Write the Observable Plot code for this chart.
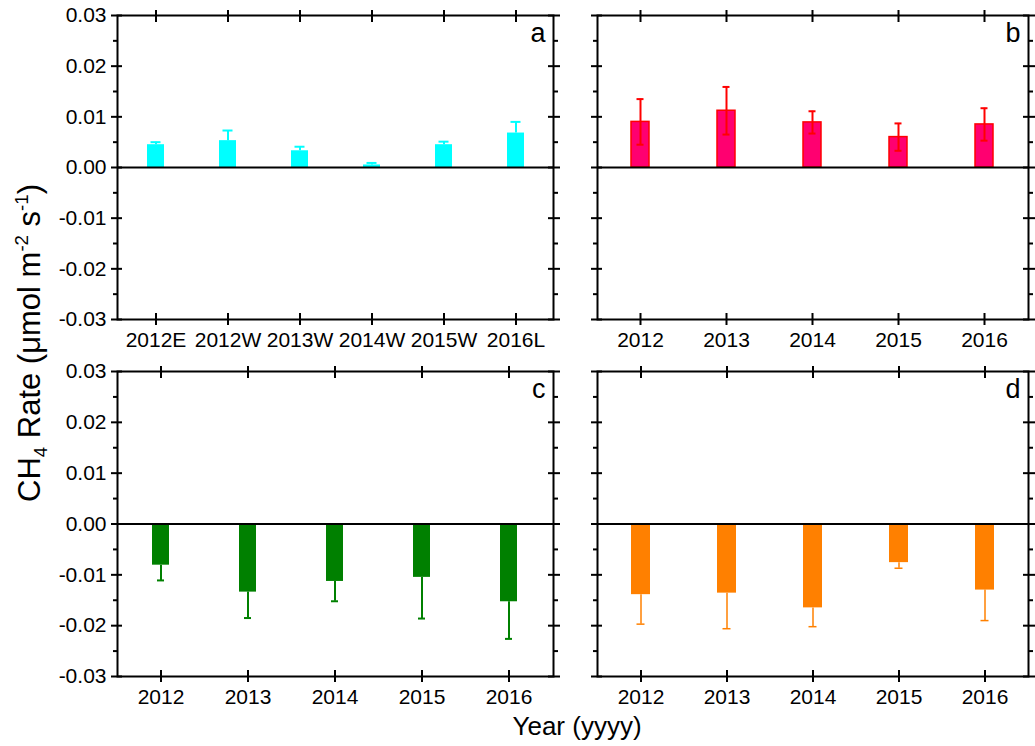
<!DOCTYPE html>
<html><head><meta charset="utf-8">
<script src="https://cdn.jsdelivr.net/npm/d3@7"></script>
<script src="https://cdn.jsdelivr.net/npm/@observablehq/plot@0.6"></script>
<style>
body{margin:0;background:#fff;}
#chart{position:relative;width:1035px;height:746px;font-family:"Liberation Sans",Arial,sans-serif;color:#000;overflow:hidden;}
#chart svg{position:absolute;}
.ytitle{position:absolute;left:29px;top:343px;transform:translate(-50%,-50%) rotate(-90deg);white-space:nowrap;font-size:31px;line-height:1;}
.ytitle sub,.ytitle sup{font-size:60%;line-height:0;}
.xtitle{position:absolute;left:577px;top:713px;transform:translateX(-50%);white-space:nowrap;font-size:26px;line-height:1;}
</style></head><body>
<div id="chart">
  <div class="ytitle">CH<sub>4</sub> Rate (μmol m<sup>-2</sup> s<sup>-1</sup>)</div>
  <div class="xtitle">Year (yyyy)</div>
</div>
<script>
// ---- data ----
const catsA = ["2012E","2012W","2013W","2014W","2015W","2016L"];
const valsA = [0.0045, 0.0053, 0.0033, 0.0005, 0.0045, 0.0068];
const errA  = [0.0005, 0.0020, 0.0008, 0.0004, 0.0006, 0.0022];

const years = ["2012","2013","2014","2015","2016"];
const valsB = [0.0090, 0.0112, 0.0089, 0.0060, 0.0085];
const errB  = [0.0045, 0.0047, 0.0022, 0.0027, 0.0032];

const valsC = [-0.0081, -0.0134, -0.0113, -0.0105, -0.0153];
const errC  = [0.0030, 0.0051, 0.0039, 0.0081, 0.0073];

const valsD = [-0.0139, -0.0136, -0.0165, -0.0076, -0.0130];
const errD  = [0.0058, 0.0070, 0.0037, 0.0011, 0.0060];

const yMajor = [-0.03, -0.02, -0.01, 0, 0.01, 0.02, 0.03];
const yMinor = [-0.025, -0.015, -0.005, 0.005, 0.015, 0.025];
const letters = ["a","b","c","d"];

const fmt = d => (Math.abs(d) < 1e-9 ? 0 : d).toFixed(2);
const FS = 21;

function panel(o) {
  const data = o.cats.map((c, i) => ({cat: c, v: o.vals[i], e: o.errs[i]}));
  const lo = d => o.dir === "up" ? d.v : d.v - d.e;
  const hi = d => o.dir === "down" ? d.v : d.v + d.e;
  const caps = [];
  if (o.dir !== "down") caps.push(Plot.tickY(data, {x: "cat", y: hi, stroke: o.errColor, strokeWidth: o.errWidth, insetLeft: o.capInset, insetRight: o.capInset}));
  if (o.dir !== "up") caps.push(Plot.tickY(data, {x: "cat", y: lo, stroke: o.errColor, strokeWidth: o.errWidth, insetLeft: o.capInset, insetRight: o.capInset}));
  const svg = Plot.plot({
    width: o.width, height: o.height,
    marginLeft: o.ml, marginRight: o.mr, marginTop: o.mt, marginBottom: o.mb,
    style: {fontFamily: '"Liberation Sans", Arial, sans-serif', fontSize: "21px", color: "black", background: "transparent", overflow: "visible"},
    x: {type: "band", domain: o.cats, paddingInner: o.pad, paddingOuter: o.pad / 2, axis: null},
    y: {domain: [-0.03, 0.03], axis: null, label: null},
    marks: [
      Plot.barY(data, {x: "cat", y: "v", fill: o.fill, stroke: o.stroke || "none", strokeWidth: 1.5}),
      Plot.ruleX(data, {x: "cat", y1: lo, y2: hi, stroke: o.errColor, strokeWidth: o.errWidth}),
      ...caps,
      Plot.ruleY([0], {stroke: "black", strokeWidth: 2}),
      Plot.frame({stroke: "black", strokeWidth: 2}),
      // left axis
      Plot.axisY({anchor: "left", ticks: yMajor, tickSize: 6, tickPadding: 5, strokeWidth: 2, label: null,
        tickFormat: o.yLabels ? fmt : () => "", fill: "black", fontSize: FS}),
      Plot.axisY({anchor: "left", ticks: yMajor, tickSize: 5, dx: 5, strokeWidth: 2, label: null, fill: "none"}),
      Plot.axisY({anchor: "left", ticks: yMinor, tickSize: 4, strokeWidth: 2, label: null, fill: "none"}),
      // right axis
      Plot.axisY({anchor: "right", ticks: yMajor, tickSize: 12, dx: -6, strokeWidth: 2, label: null, fill: "none"}),
      Plot.axisY({anchor: "right", ticks: yMinor, tickSize: 4, strokeWidth: 2, label: null, fill: "none"}),
      // bottom axis
      Plot.axisX({anchor: "bottom", tickSize: 6, tickPadding: 7, strokeWidth: 2, label: null, fill: "black", fontSize: FS}),
      Plot.axisX({anchor: "bottom", tickSize: 6, dy: -6, strokeWidth: 2, label: null, fill: "none"}),
      // top axis
      Plot.axisX({anchor: "top", tickSize: 12, dy: 6, strokeWidth: 2, label: null, fill: "none"}),
      Plot.text([o.letter], {frameAnchor: "top-right", text: d => d, textAnchor: "end", lineAnchor: "top", dx: -8, dy: 7, fontSize: 27, fill: "black"})
    ]
  });
  svg.style.left = o.left + "px";
  svg.style.top = o.top + "px";
  return svg;
}

const chart = document.getElementById("chart");
chart.appendChild(panel({cats: catsA, vals: valsA, errs: errA, dir: "up", fill: "#00FFFF", errColor: "#00FFFF", errWidth: 2, capInset: 3.5,
  pad: 0.77, letter: letters[0], yLabels: true, left: 0, top: 0, width: 560, height: 360, ml: 117, mr: 7, mt: 15, mb: 41}));
chart.appendChild(panel({cats: years, vals: valsB, errs: errB, dir: "both", fill: "#FF0070", stroke: "#FF0000", errColor: "#FF0000", errWidth: 2, capInset: 5.5,
  pad: 0.79, letter: letters[1], yLabels: false, left: 580, top: 0, width: 455, height: 360, ml: 17, mr: 7, mt: 15, mb: 41}));
chart.appendChild(panel({cats: years, vals: valsC, errs: errC, dir: "down", fill: "#008000", errColor: "#008000", errWidth: 2, capInset: 5,
  pad: 0.8, letter: letters[2], yLabels: true, left: 0, top: 360, width: 560, height: 386, ml: 117, mr: 7, mt: 11, mb: 70}));
chart.appendChild(panel({cats: years, vals: valsD, errs: errD, dir: "down", fill: "#FF8000", errColor: "#FF8000", errWidth: 1.5, capInset: 5.5,
  pad: 0.78, letter: letters[3], yLabels: false, left: 580, top: 360, width: 455, height: 386, ml: 17, mr: 7, mt: 11, mb: 70}));
</script>
</body></html>
